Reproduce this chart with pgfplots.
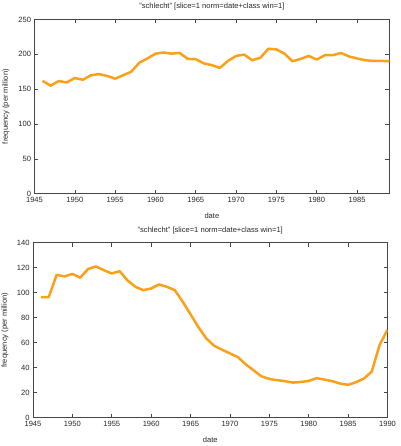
\documentclass[border=0pt]{standalone}
\usepackage{fontspec}
\setmainfont{Liberation Sans}
\usepackage{pgfplots}
\pgfplotsset{compat=1.18}
\definecolor{gpor}{RGB}{250,160,25}
\definecolor{axc}{RGB}{70,70,70}
\definecolor{txc}{RGB}{40,40,40}
\pgfplotsset{
  common/.style={
    scale only axis,
    axis line style={axc, line width=0.6pt},
    every tick/.style={axc, line width=0.6pt},
    major tick length=4bp,
    tick align=inside,
    font=\fontsize{7.6}{8.6}\selectfont,
    every axis title/.style={font=\fontsize{7.6}{8.6}\selectfont, text=txc, anchor=base},
    every axis x label/.style={anchor=base, text=txc},
    every axis y label/.style={anchor=center, rotate=90, text=txc},
    ticklabel style={text=txc},
    /pgf/number format/assume math mode=true,
    /pgf/number format/set thousands separator={},
    xtick distance=5,
    title={"schlecht" [slice=1 norm=date+class win=1]},
    xlabel={date},
    ylabel={frequency (per million)},
  }
}
\begin{document}
\begin{tikzpicture}[x=1bp,y=1bp]
\useasboundingbox (0,0) rectangle (400,446);
\begin{axis}[common,
  at={(34.5bp,252.3bp)}, anchor=south west,
  width=354.8bp, height=174.2bp,
  xmin=1945, xmax=1989, ymin=0, ymax=250,
  ytick={0,50,100,150,200,250},
  title style={at={(axis description cs:0.5,1.064)}},
  xlabel style={at={(axis description cs:0.5,-0.145)}},
  ylabel style={at={(axis description cs:-0.0803,0.5)}},
]
\addplot[gpor, line width=2.5bp, line join=round] coordinates {
(1946,162) (1947,155) (1948,161.6) (1949,159.7) (1950,166) (1951,163.5)
(1952,170) (1953,171.6) (1954,169) (1955,165) (1956,170) (1957,175)
(1958,188) (1959,194) (1960,201) (1961,202.5) (1962,201) (1963,202)
(1964,193.4) (1965,193) (1966,187) (1967,184.4) (1968,180.6) (1969,190.6)
(1970,197.7) (1971,199.6) (1972,191.5) (1973,195) (1974,208) (1975,207)
(1976,201) (1977,190) (1978,193.4) (1979,197.7) (1980,192.5) (1981,198.7)
(1982,198.7) (1983,202) (1984,197) (1985,194) (1986,191.5) (1987,190.6)
(1988,190.6) (1989,190)
};
\end{axis}
\begin{axis}[common,
  at={(33bp,28.3bp)}, anchor=south west,
  width=354.5bp, height=175bp,
  xmin=1945, xmax=1990, ymin=0, ymax=140,
  ytick={0,20,40,60,80,100,120,140},
  title style={at={(axis description cs:0.5,1.058)}},
  xlabel style={at={(axis description cs:0.5,-0.142)}},
  ylabel style={at={(axis description cs:-0.079,0.5)}},
]
\addplot[gpor, line width=2.5bp, line join=round] coordinates {
(1946,96.5) (1947,96.5) (1948,114.3) (1949,113) (1950,115) (1951,112)
(1952,119) (1953,121) (1954,118) (1955,115.4) (1956,117.2) (1957,109.8)
(1958,104.7) (1959,102) (1960,103.4) (1961,106.6) (1962,104.7) (1963,102)
(1964,92.8) (1965,82.7) (1966,72.4) (1967,63.4) (1968,57.5) (1969,54.4)
(1970,51.4) (1971,48.5) (1972,42.7) (1973,37.9) (1974,33.1) (1975,31)
(1976,30) (1977,29.2) (1978,28.1) (1979,28.6) (1980,29.4) (1981,31.6)
(1982,30.5) (1983,29.2) (1984,27.3) (1985,26.3) (1986,28.4) (1987,31.3)
(1988,36.9) (1989,58.3) (1990,70.3)
};
\end{axis}
\end{tikzpicture}
\end{document}
